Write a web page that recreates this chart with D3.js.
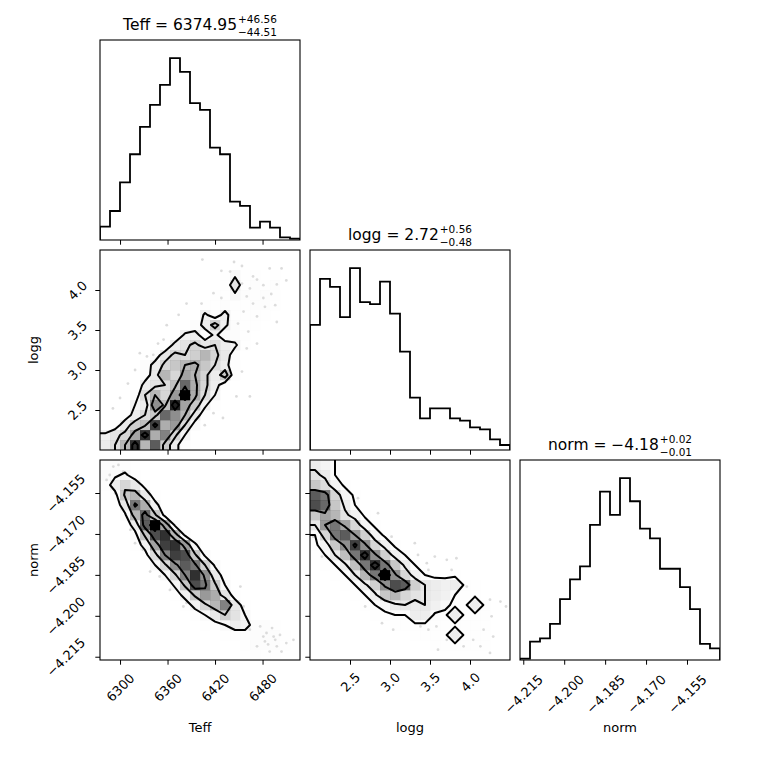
<!DOCTYPE html>
<html>
<head>
<meta charset="utf-8">
<script src="https://cdn.jsdelivr.net/npm/d3@7"></script>
<style>
body { margin: 0; background: #fff; }
text { font-family: "DejaVu Sans", sans-serif; fill: #000; }
</style>
</head>
<body>
<div id="container"></div>
<script>
// parameter names, ranges, ticks
const names = ["Teff", "logg", "norm"];
const ranges = [[6274.7, 6527.3], [2.0, 4.5], [-4.2162, -4.1429]];
const tickVals = [[6300, 6360, 6420, 6480], [2.5, 3.0, 3.5, 4.0], [-4.215, -4.200, -4.185, -4.170, -4.155]];
const tickFmts = ["d", ".1f", ".3f"];
const titleValues = ["6374.95", "2.72", "\u22124.18"];
const titleUp = ["46.56", "0.56", "0.02"];
const titleDown = ["44.51", "0.48", "0.01"];

// 1d histograms (20 bins each)
const histTeff = [40, 87, 173, 257, 339, 405, 465, 545, 504, 410, 390, 277, 257, 115, 102, 37, 55, 37, 8, 4];
const histLogg = [375, 513, 489, 398, 545, 443, 437, 505, 409, 295, 157, 95, 125, 125, 95, 88, 68, 62, 32, 15];
const histNorm = [4, 55, 65, 108, 182, 241, 280, 404, 504, 434, 544, 475, 393, 364, 273, 273, 218, 152, 48, 35];

// 2d histograms, rows from top (high y) to bottom, 20x20 bins
const gridTeffLogg = [
  [0,0,0,0,0,0,0,0,0,0,0,1,0,0,1,0,0,0,0,0],
  [0,0,0,0,0,0,0,0,0,0,0,0,1,1,1,1,1,1,0,0],
  [0,0,0,0,0,0,0,0,0,0,0,1,2,5,2,2,1,2,1,0],
  [0,0,0,0,0,0,0,0,0,0,0,1,2,10,2,3,2,3,1,0],
  [0,0,0,0,0,0,0,0,0,1,1,2,2,5,3,2,3,2,1,0],
  [0,0,0,0,0,0,0,0,1,1,2,2,3,2,2,3,3,2,1,0],
  [0,0,0,0,0,0,0,1,0,1,7,3,8,2,2,2,2,1,1,0],
  [0,0,0,0,0,0,1,0,1,3,8,13,7,3,2,2,1,1,0,0],
  [0,0,0,0,0,0,0,1,7,8,3,7,3,3,2,1,1,0,0,0],
  [0,0,0,0,0,0,1,8,10,12,9,11,8,7,2,1,0,0,0,0],
  [0,0,0,0,1,3,9,12,11,13,16,12,9,3,1,0,0,0,0,0],
  [0,0,0,0,3,8,12,14,16,17,14,11,8,2,1,0,0,0,0,0],
  [0,0,0,1,3,9,16,12,18,16,12,8,14,2,0,0,0,0,0,0],
  [0,0,0,1,8,10,11,15,23,17,12,8,3,1,0,0,0,0,0,0],
  [0,0,1,3,11,16,12,19,30,17,11,6,1,0,0,0,0,0,0,0],
  [0,0,1,6,8,20,15,28,18,14,7,2,0,0,0,0,0,0,0,0],
  [0,1,3,8,11,14,23,20,16,9,3,1,0,0,0,0,0,0,0,0],
  [1,3,9,13,15,26,17,19,11,4,1,0,0,0,0,0,0,0,0,0],
  [7,10,12,18,27,17,21,12,6,1,0,0,0,0,0,0,0,0,0,0],
  [8,11,16,27,16,24,14,8,2,0,0,0,0,0,0,0,0,0,0,0]
];
const gridTeffNorm = [
  [3,3,2,0,0,0,0,0,0,0,0,0,0,0,0,0,0,0,0,0],
  [4,4,6,2,0,0,0,0,0,0,0,0,0,0,0,0,0,0,0,0],
  [2,8,12,9,3,0,0,0,0,0,0,0,0,0,0,0,0,0,0,0],
  [0,3,14,16,9,2,0,0,0,0,0,0,0,0,0,0,0,0,0,0],
  [0,1,9,22,17,7,1,0,0,0,0,0,0,0,0,0,0,0,0,0],
  [0,0,4,16,23,14,3,0,0,0,0,0,0,0,0,0,0,0,0,0],
  [0,0,1,8,24,30,18,4,1,0,0,0,0,0,0,0,0,0,0,0],
  [0,0,1,3,14,25,27,16,4,1,0,0,0,0,0,0,0,0,0,0],
  [0,0,0,2,7,18,26,27,19,6,1,0,0,0,0,0,0,0,0,0],
  [0,0,0,1,3,11,21,26,25,14,4,1,0,0,0,0,0,0,0,0],
  [0,0,0,0,1,5,12,20,24,22,13,4,1,0,0,0,0,0,0,0],
  [0,0,0,0,0,1,5,12,21,27,20,9,2,0,0,0,0,0,0,0],
  [0,0,0,0,0,0,1,6,14,25,22,14,5,1,0,0,0,0,0,0],
  [0,0,0,0,0,0,0,2,7,14,19,17,10,2,1,0,0,0,0,0],
  [0,0,0,0,0,0,0,1,2,7,12,16,21,9,2,0,0,0,0,0],
  [0,0,0,0,0,0,0,0,1,2,5,9,13,10,5,1,0,0,0,0],
  [0,0,0,0,0,0,0,0,0,1,2,3,5,8,7,3,3,2,0,0],
  [0,0,0,0,0,0,0,0,0,0,1,1,2,2,3,3,3,3,2,0],
  [0,0,0,0,0,0,0,0,0,0,0,0,1,1,2,3,3,3,2,0],
  [0,0,0,0,0,0,0,0,0,0,0,0,0,0,1,2,2,2,1,0]
];
const gridLoggNorm = [
  [8,6,3,1,0,0,0,0,0,0,0,0,0,0,0,0,0,0,0,0],
  [10,8,3,1,0,0,0,0,0,0,0,0,0,0,0,0,0,0,0,0],
  [14,11,6,2,1,0,0,0,0,0,0,0,0,0,0,0,0,0,0,0],
  [24,22,12,6,2,1,0,0,0,0,0,0,0,0,0,0,0,0,0,0],
  [25,23,14,8,3,1,0,0,0,0,0,0,0,0,0,0,0,0,0,0],
  [14,18,16,10,7,2,1,0,0,0,0,0,0,0,0,0,0,0,0,0],
  [9,19,22,18,12,6,2,0,0,0,0,0,0,0,0,0,0,0,0,0],
  [3,12,22,24,19,13,6,2,1,0,0,0,0,0,0,0,0,0,0,0],
  [2,6,14,20,26,20,12,7,2,1,1,1,1,1,0,0,0,0,0,0],
  [1,3,9,15,22,27,20,13,7,3,1,1,1,1,1,0,0,0,0,0],
  [1,2,3,8,15,22,27,22,14,8,3,1,1,1,1,1,1,0,0,0],
  [1,1,2,3,9,16,22,30,20,12,7,3,1,1,2,1,1,1,0,0],
  [0,1,1,2,3,8,13,20,25,24,13,9,8,7,8,2,2,1,1,0],
  [0,0,1,1,2,3,8,14,16,12,10,9,8,7,3,2,2,1,1,0],
  [0,0,0,0,1,2,3,5,8,9,8,9,7,4,2,2,8,2,1,0],
  [0,0,0,0,0,1,2,2,3,3,8,8,2,2,8,2,2,2,1,1],
  [0,0,0,0,0,0,1,1,2,2,2,2,2,2,2,2,2,2,1,1],
  [0,0,0,0,0,0,0,1,1,1,2,2,2,2,8,2,2,2,1,1],
  [0,0,0,0,0,0,0,0,0,1,1,1,2,2,2,2,2,2,1,0],
  [0,0,0,0,0,0,0,0,0,0,0,1,1,1,1,1,1,1,0,0]
];

// loose samples outside the contours
const ptsTeffLogg = [
  [6404,4.38],[6428,4.24],[6439,4.23],[6454,4.30],[6468,4.17],[6489,4.27],[6504,4.27],[6473,4.13],
  [6454,4.08],[6464,4.02],[6481,4.06],[6498,4.07],[6418,3.96],[6428,3.90],[6460,3.92],[6481,3.90],
  [6496,3.81],[6483,3.79],[6468,3.83],[6403,3.83],[6384,3.83],[6456,3.73],[6473,3.67],[6498,3.60],
  [6374,3.69],[6359,3.56],[6449,3.58],[6462,3.48],[6473,3.33],[6460,3.27],[6355,3.38],[6342,3.19],
  [6334,3.17],[6319,3.00],[6310,2.83],[6300,2.65],[6291,2.52],[6325,3.21],[6348,3.33],[6447,2.67],
  [6464,2.67],[6430,2.40],[6418,2.46],[6454,2.98],[6407,2.31],[6491,3.95],[6510,4.12],[6444,4.35]
];
const ptsTeffNorm = [
  [6291.5,-4.1453],[6304,-4.1472],[6310,-4.1484],[6287,-4.1484],[6283,-4.1502],[6298,-4.1447],
  [6294,-4.1551],[6313,-4.1685],[6319,-4.1734],[6329,-4.1758],[6342,-4.1795],[6338,-4.1838],
  [6350,-4.1856],[6363,-4.1905],[6376,-4.1917],[6384,-4.1953],[6380,-4.1966],[6393,-4.1935],
  [6409,-4.1984],[6418,-4.2002],[6435,-4.2027],[6456,-4.1966],[6452,-4.1893],[6464,-4.2051],
  [6477,-4.2039],[6485,-4.2063],[6494,-4.2076],[6502,-4.2070],[6483,-4.2094],[6510,-4.2100],
  [6498,-4.2112],[6473,-4.2112],[6489,-4.2131],[6504,-4.2131],[6481,-4.2076],[6492,-4.2045],
  [6519,-4.2088],[6496,-4.2088],[6487,-4.2105]
];
const ptsLoggNorm = [
  [2.23,-4.1447],[2.46,-4.1539],[2.60,-4.1569],[2.85,-4.1624],[2.04,-4.1710],[2.15,-4.1783],
  [3.02,-4.1710],[3.31,-4.1734],[3.35,-4.1777],[3.46,-4.1807],[3.56,-4.1783],[3.71,-4.1795],
  [3.83,-4.1789],[3.77,-4.1832],[3.48,-4.1832],[3.96,-4.1893],[4.06,-4.1929],[4.25,-4.1941],
  [4.38,-4.1948],[4.27,-4.2002],[4.17,-4.2051],[4.29,-4.2076],[4.04,-4.2088],[3.92,-4.2112],
  [4.13,-4.2112],[4.25,-4.2136],[3.60,-4.2124],[3.71,-4.2088],[3.58,-4.2039],[3.48,-4.2051],
  [3.38,-4.2039],[3.04,-4.2051],[2.90,-4.2027],[2.69,-4.1966],[3.08,-4.1996],[3.83,-4.2063],
  [4.45,-4.1966]
];

const hists = [histTeff, histLogg, histNorm];
const grids = {"0-1": gridTeffLogg, "0-2": gridTeffNorm, "1-2": gridLoggNorm};
const points = {"0-1": ptsTeffLogg, "0-2": ptsTeffNorm, "1-2": ptsLoggNorm};

var size = 200, gap = 10, left_margin = 100, top_margin = 40;
var tickLen = 4.7, tickPad = 4.2, fs = 13;

var px = function(i){ return left_margin + i * (size + gap); };
var py = function(j){ return top_margin + j * (size + gap); };

var xs = function(i){
    return d3.scaleLinear().domain(ranges[i]).range([px(i), px(i) + size]);
};
var ys = function(i, row){
    return d3.scaleLinear().domain(ranges[i]).range([py(row) + size, py(row)]);
};

var svg = d3.select("#container").append("svg")
    .attr("width", 760)
    .attr("height", 760);

var defs = svg.append("defs");

var clipFor = function(col, row){
    var id = "clip" + col + row;
    defs.append("clipPath").attr("id", id)
	.append("rect")
	.attr("x", px(col)).attr("y", py(row))
	.attr("width", size).attr("height", size);
    return "url(#" + id + ")";
};

var drawHist = function(i){
    var counts = hists[i];
    var x = xs(i);
    var y = d3.scaleLinear().domain([0, 1.1 * d3.max(counts)])
	.range([py(i) + size, py(i)]);
    var dx = (ranges[i][1] - ranges[i][0]) / counts.length;
    var pts = [[ranges[i][0], 0]];
    counts.forEach(function(c, k){
	pts.push([ranges[i][0] + k * dx, c]);
	pts.push([ranges[i][0] + (k + 1) * dx, c]);
    });
    pts.push([ranges[i][1], 0]);

    svg.append("g").attr("clip-path", clipFor(i, i))
	.append("path")
	.attr("d", d3.line().x(function(d){ return x(d[0]); }).y(function(d){ return y(d[1]); })(pts))
	.style("fill", "none")
	.style("stroke", "#000")
	.style("stroke-width", 1.8);
};

var draw2d = function(col, row){
    var rows = grids[col + "-" + row];
    var n = rows.length;
    var x = xs(col), y = ys(row, row);
    var dx = (ranges[col][1] - ranges[col][0]) / n,
	dy = (ranges[row][1] - ranges[row][0]) / n;

    // H[ix][iy], iy counted from the low end of the y range
    var H = d3.range(n).map(function(ix){
	return d3.range(n).map(function(iy){ return rows[n - 1 - iy][ix]; });
    });
    var hmax = d3.max(rows, function(r){ return d3.max(r); });
    var hmin = d3.min(rows, function(r){ return d3.min(r); });

    // contour levels enclosing 1-exp(-s^2/2) of the mass
    var flat = [].concat.apply([], H).sort(function(a, b){ return b - a; });
    var total = d3.sum(flat);
    var V = [0.5, 1, 1.5, 2].map(function(s){
	var v0 = 1 - Math.exp(-0.5 * s * s), cum = 0, last = flat[0];
	for (var k = 0; k < flat.length; k++){
	    cum += flat[k];
	    if (cum / total <= v0) last = flat[k];
	    else break;
	}
	return last;
    }).sort(d3.ascending);
    for (var k = 1; k < V.length; k++)
	if (V[k] <= V[k - 1]) V[k - 1] = V[k] * (1 - 1e-4);
    V.sort(d3.ascending);

    // padded grid, edges copied one bin outward
    var N2 = n + 4;
    var H2 = new Array(N2 * N2).fill(hmin);
    var set = function(a, b, v){ H2[a + b * N2] = v; };
    for (var ix = 0; ix < n; ix++){
	for (var iy = 0; iy < n; iy++) set(ix + 2, iy + 2, H[ix][iy]);
	set(ix + 2, 1, H[ix][0]);
	set(ix + 2, N2 - 2, H[ix][n - 1]);
    }
    for (var iy2 = 0; iy2 < n; iy2++){
	set(1, iy2 + 2, H[0][iy2]);
	set(N2 - 2, iy2 + 2, H[n - 1][iy2]);
    }
    set(1, 1, H[0][0]); set(N2 - 2, 1, H[n - 1][0]);
    set(1, N2 - 2, H[0][n - 1]); set(N2 - 2, N2 - 2, H[n - 1][n - 1]);

    var cx = d3.scaleLinear().domain([2, n + 2]).range([x(ranges[col][0]), x(ranges[col][1])]);
    var cy = d3.scaleLinear().domain([2, n + 2]).range([y(ranges[row][0]), y(ranges[row][1])]);
    var path = d3.geoPath(d3.geoTransform({
	point: function(a, b){ this.stream.point(cx(a), cy(b)); }
    }));
    var contours = d3.contours().size([N2, N2]);

    var g = svg.append("g").attr("clip-path", clipFor(col, row));

    // loose samples
    g.selectAll("circle").data(points[col + "-" + row]).enter()
	.append("circle")
	.attr("cx", function(d){ return x(d[0]); })
	.attr("cy", function(d){ return y(d[1]); })
	.attr("r", 1.4)
	.style("fill", "#000")
	.style("fill-opacity", 0.14);

    // white fill inside the lowest level
    g.append("path")
	.attr("d", path(contours.thresholds([V[0]])(H2)[0]))
	.style("fill", "#fff")
	.style("stroke", "none");

    // density cells
    var cells = [];
    H.forEach(function(colv, ix){
	colv.forEach(function(v, iy){ if (v > hmin) cells.push([ix, iy, v]); });
    });
    g.selectAll("rect.cell").data(cells).enter()
	.append("rect")
	.classed("cell", true)
	.attr("x", function(d){ return x(ranges[col][0] + d[0] * dx); })
	.attr("y", function(d){ return y(ranges[row][0] + (d[1] + 1) * dy); })
	.attr("width", size / n + 0.3)
	.attr("height", size / n + 0.3)
	.style("fill", function(d){
	    var t = 1 - (d[2] - hmin) / (hmax - hmin);
	    var c = Math.round(255 * t);
	    return d3.rgb(c, c, c).toString();
	})
	.style("fill-opacity", function(d){ return (d[2] - hmin) / (hmax - hmin); });

    // contour lines
    g.selectAll("path.lvl").data(contours.thresholds(V)(H2)).enter()
	.append("path")
	.classed("lvl", true)
	.attr("d", path)
	.style("fill", "none")
	.style("stroke", "#000")
	.style("stroke-width", 2)
	.style("stroke-linejoin", "round");
};

var styleTicks = function(ax){
    ax.select(".domain").remove();
    ax.attr("font-family", null).attr("font-size", null);
    ax.selectAll(".tick line").style("stroke", "#000").style("stroke-width", 1);
};

var drawAxes = function(col, row){
    var x = xs(col);
    var fmt = d3.format(tickFmts[col]);
    var xa = svg.append("g")
	.attr("transform", "translate(0," + (py(row) + size) + ")")
	.call(d3.axisBottom(x).tickValues(tickVals[col]).tickSize(tickLen)
	      .tickFormat(row == 2 ? fmt : function(){ return ""; }));
    styleTicks(xa);
    if (row == 2){
	xa.selectAll(".tick text").each(function(){
	    var w = this.getComputedTextLength();
	    var half = (w + fs * 0.95) * Math.SQRT1_2 / 2;
	    d3.select(this)
		.attr("y", null).attr("dy", null)
		.attr("font-size", fs)
		.attr("text-anchor", "middle")
		.attr("dominant-baseline", "central")
		.attr("transform", "translate(0," + (tickLen + tickPad + half) + ") rotate(-45)");
	});
	svg.append("text")
	    .attr("x", px(col) + size / 2)
	    .attr("y", py(row) + size + 62)
	    .attr("font-size", fs)
	    .attr("text-anchor", "middle")
	    .attr("dominant-baseline", "hanging")
	    .text(names[col]);
    }

    if (col != row){
	var y = ys(row, row);
	var yfmt = d3.format(tickFmts[row]);
	var ya = svg.append("g")
	    .attr("transform", "translate(" + px(col) + ",0)")
	    .call(d3.axisLeft(y).tickValues(tickVals[row]).tickSize(tickLen)
		  .tickFormat(col == 0 ? yfmt : function(){ return ""; }));
	styleTicks(ya);
	if (col == 0){
	    ya.selectAll(".tick text").each(function(){
		var w = this.getComputedTextLength();
		var half = (w + fs * 0.95) * Math.SQRT1_2 / 2;
		d3.select(this)
		    .attr("x", null).attr("dy", null)
		    .attr("font-size", fs)
		    .attr("text-anchor", "middle")
		    .attr("dominant-baseline", "central")
		    .attr("transform", "translate(" + (-(tickLen + tickPad + half)) + ",0) rotate(-45)");
	    });
	    svg.append("text")
		.attr("transform", "translate(" + (px(col) - 62) + "," + (py(row) + size / 2) + ") rotate(-90)")
		.attr("font-size", fs)
		.attr("text-anchor", "middle")
		.attr("dominant-baseline", "auto")
		.text(names[row]);
	}
    }

    // frame
    svg.append("rect")
	.attr("x", px(col)).attr("y", py(row))
	.attr("width", size).attr("height", size)
	.style("fill", "none")
	.style("stroke", "#000")
	.style("stroke-width", 1.1);
};

var drawTitle = function(i){
    var tg = svg.append("g");
    var T = py(i);
    var main = tg.append("text").attr("font-size", 15.5).text(names[i] + " = " + titleValues[i]);
    var sup = tg.append("text").attr("font-size", 10.5).text("+" + titleUp[i]);
    var sub = tg.append("text").attr("font-size", 10.5).text("\u2212" + titleDown[i]);
    var wm = main.node().getComputedTextLength();
    var ws = Math.max(sup.node().getComputedTextLength(), sub.node().getComputedTextLength());
    var x0 = px(i) + size / 2 - (wm + 1 + ws) / 2;
    main.attr("x", x0).attr("y", T - 10);
    sup.attr("x", x0 + wm + 1).attr("y", T - 17);
    sub.attr("x", x0 + wm + 1).attr("y", T - 4.5);
};

for (var col = 0; col < 3; col++){
    for (var row = col; row < 3; row++){
	if (row == col){
	    drawHist(col);
	    drawTitle(col);
	} else {
	    draw2d(col, row);
	}
	drawAxes(col, row);
    }
}
</script>
</body>
</html>
